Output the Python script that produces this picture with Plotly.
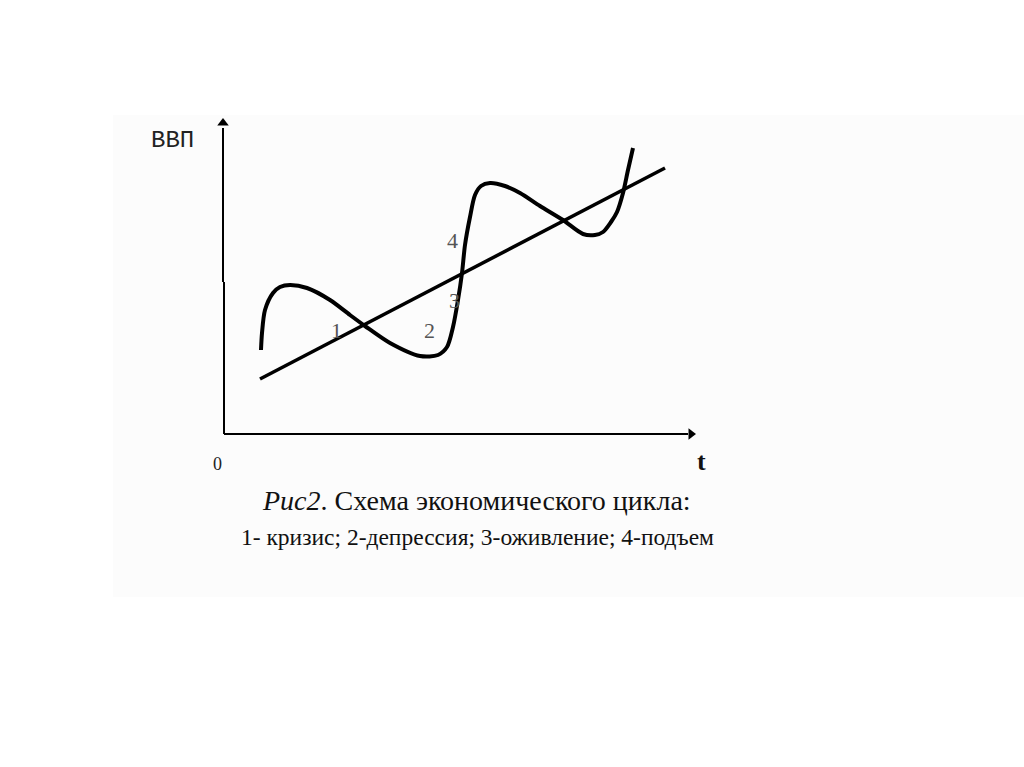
import plotly.graph_objects as go

# Data units: 1 unit of t / GDP (schematic)
trend_t = [3.6, 44.1]
trend_gdp = [5.5, 26.6]

cycle_t = [3.7, 3.8, 4.1, 4.9, 5.6, 6.6, 8.3, 10.6, 12.6, 14.1, 16.6, 19.6, 21.4, 22.3,
           22.9, 23.4, 23.8, 24.1, 24.6, 25.1, 25.7, 26.6, 28.1, 29.6, 31.6, 33.9, 35.9,
           37.1, 37.9, 38.7, 39.3, 39.9, 40.4, 40.9]
cycle_gdp = [8.4, 10.1, 12.4, 14.1, 14.7, 14.9, 14.6, 13.4, 11.9, 10.8, 9.1, 7.8, 7.9, 8.7,
             10.7, 13.4, 16.1, 18.9, 21.7, 23.9, 24.8, 25.1, 24.8, 24.1, 22.8, 21.4, 20.0,
             19.9, 20.2, 21.2, 22.2, 24.1, 26.4, 28.6]

# axes
yaxis_upper_t = [-0.1, -0.1]
yaxis_upper_gdp = [30.6, 15.2]
yaxis_lower_t = [0, 0]
yaxis_lower_gdp = [15.2, 0]
xaxis_t = [0, 46.4]
xaxis_gdp = [0, 0]

phase_labels = ["1", "2", "3", "4"]
phase_t = [11.2, 20.5, 23.0, 22.8]
phase_gdp = [10.4, 10.4, 13.4, 19.4]

caption1 = "<i>Рис2</i>. Схема экономического цикла:"
caption2 = "1- кризис; 2-депрессия; 3-оживление; 4-подъем"

fig = go.Figure()

axis_line = dict(color="black", width=2)
fig.add_trace(go.Scatter(x=yaxis_upper_t, y=yaxis_upper_gdp, mode="lines", line=axis_line, hoverinfo="skip"))
fig.add_trace(go.Scatter(x=yaxis_lower_t, y=yaxis_lower_gdp, mode="lines", line=axis_line, hoverinfo="skip"))
fig.add_trace(go.Scatter(x=xaxis_t, y=xaxis_gdp, mode="lines", line=axis_line, hoverinfo="skip"))
fig.add_trace(go.Scatter(x=[-0.1], y=[31.1], mode="markers",
                         marker=dict(symbol="triangle-up", size=10, color="black"), hoverinfo="skip"))
fig.add_trace(go.Scatter(x=[46.7], y=[0], mode="markers",
                         marker=dict(symbol="triangle-right", size=10, color="black"), hoverinfo="skip"))

fig.add_trace(go.Scatter(x=trend_t, y=trend_gdp, mode="lines",
                         line=dict(color="black", width=3.5)))
fig.add_trace(go.Scatter(x=cycle_t, y=cycle_gdp, mode="lines",
                         line=dict(color="black", width=4, shape="spline", smoothing=0.8)))

for lab, tx, ty in zip(phase_labels, phase_t, phase_gdp):
    fig.add_annotation(x=tx, y=ty, text=lab, showarrow=False,
                       font=dict(family="Liberation Serif", size=22, color="#555"))

fig.add_annotation(x=-5.2, y=29.4, text="ВВП", showarrow=False,
                   font=dict(family="Courier New, Liberation Mono, monospace", size=24, color="#222"))
fig.add_annotation(x=-0.7, y=-3.0, text="0", showarrow=False,
                   font=dict(family="Liberation Serif", size=18, color="#222"))
fig.add_annotation(x=47.7, y=-2.7, text="<b>t</b>", showarrow=False,
                   font=dict(family="Liberation Serif", size=26, color="#111"))
fig.add_annotation(x=25.2, y=-6.6, text=caption1, showarrow=False,
                   font=dict(family="Liberation Serif", size=28, color="#111"))
fig.add_annotation(x=25.3, y=-10.3, text=caption2, showarrow=False,
                   font=dict(family="Liberation Serif", size=23.5, color="#111"))

fig.add_shape(type="rect", xref="paper", yref="paper",
              x0=113 / 1024, x1=1.0, y0=1 - 597 / 767, y1=1 - 115 / 767,
              fillcolor="#fcfcfc", line=dict(width=0), layer="below")

fig.update_layout(
    width=1024, height=767,
    margin=dict(l=0, r=0, t=0, b=0),
    paper_bgcolor="white", plot_bgcolor="rgba(0,0,0,0)",
    showlegend=False,
    xaxis=dict(range=[-22.4, 80.0], visible=False, fixedrange=True),
    yaxis=dict(range=[-33.3, 43.4], visible=False, fixedrange=True),
)

fig.write_html("out.html", config={"displayModeBar": False},
               post_script="document.body.style.margin='0';document.body.style.overflow='hidden';")
